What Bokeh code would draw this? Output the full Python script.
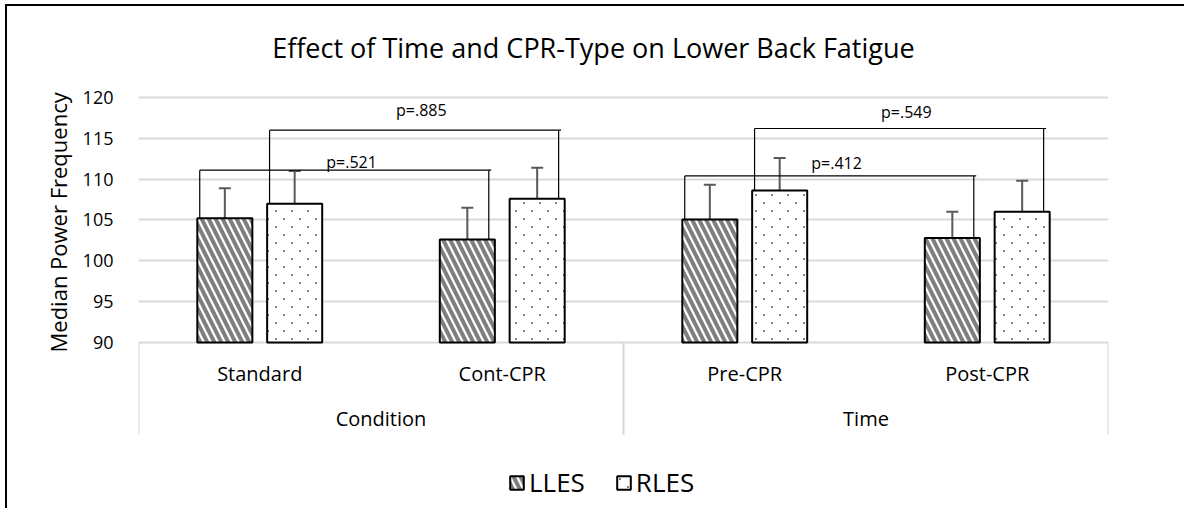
import base64
import struct
import zlib

from bokeh.plotting import figure
from bokeh.models import (ColumnDataSource, FactorRange, Range1d, FixedTicker, Title,
                          Legend, LegendItem, Whisker, TeeHead, ImageURLTexture)
from bokeh.embed import file_html
from bokeh.resources import INLINE
from bokeh.core.properties import value

# ---------------- data ----------------
title_text = "Effect of Time and CPR-Type on Lower Back Fatigue"
y_label = "Median Power Frequency"
groups = ["Condition", "Time"]
categories = ["Standard", "Cont-CPR", "Pre-CPR", "Post-CPR"]
group_members = [["Standard", "Cont-CPR"], ["Pre-CPR", "Post-CPR"]]
series = ["LLES", "RLES"]
lles_mean = [105.2, 102.6, 105.05, 102.8]
lles_err = [3.7, 3.9, 4.25, 3.2]
rles_mean = [107.0, 107.6, 108.6, 106.0]
rles_err = [4.0, 3.8, 4.0, 3.8]
y_ticks = [90, 95, 100, 105, 110, 115, 120]

comp_label = ["p=.521", "p=.885", "p=.412", "p=.549"]
comp_series = ["LLES", "RLES", "LLES", "RLES"]
comp_from = ["Standard", "Standard", "Pre-CPR", "Pre-CPR"]
comp_to = ["Cont-CPR", "Cont-CPR", "Post-CPR", "Post-CPR"]
comp_height = [111.1, 116.0, 110.4, 116.2]
comp_label_y = [112.1, 118.5, 112.0, 118.25]

# ---------------- layout constants ----------------
FONT = "Open Sans"
BAR_W = 0.227
OFF = 0.144
series_off = {"LLES": -OFF, "RLES": OFF}
means = {"LLES": lles_mean, "RLES": rles_mean}
errs = {"LLES": lles_err, "RLES": rles_err}
Y_MIN = 69.43
Y_MAX = 131.14
TITLE_X = 1.876
TITLE_Y = 126.09
ROW1_Y = 86.23
ROW2_Y = 80.66
TABLE_BOTTOM = 78.7
GRID = "#d9d9d9"


def dot_tile_png(size=16, dot=2, gray=127):
    """Small RGBA tile: two staggered gray dots on a transparent background."""
    spots = [(4, 4), (12, 12)]
    rows = []
    for yy in range(size):
        row = bytearray(b"\x00")
        for xx in range(size):
            on = any(sx <= xx < sx + dot and sy <= yy < sy + dot for sx, sy in spots)
            row += bytes((gray, gray, gray, 255 if on else 0))
        rows.append(bytes(row))
    raw = b"".join(rows)

    def chunk(tag, data):
        return (struct.pack(">I", len(data)) + tag + data +
                struct.pack(">I", zlib.crc32(tag + data) & 0xFFFFFFFF))

    png = (b"\x89PNG\r\n\x1a\n" +
           chunk(b"IHDR", struct.pack(">IIBBBBB", size, size, 8, 6, 0, 0, 0)) +
           chunk(b"IDAT", zlib.compress(raw)) + chunk(b"IEND", b""))
    return "data:image/png;base64," + base64.b64encode(png).decode("ascii")


p = figure(width=1179, height=504, title=None,
           x_range=FactorRange(factors=categories),
           y_range=Range1d(Y_MIN, Y_MAX),
           output_backend="svg", toolbar_location=None,
           x_axis_location=None,
           min_border_left=131, min_border_right=78,
           min_border_top=0, min_border_bottom=0,
           styles={"margin-left": "7px", "margin-top": "6px",
                   "box-shadow": "-2px -2px 0 0 #000"})
p.outline_line_color = None
p.background_fill_color = "white"
p.border_fill_color = "white"

# chart title (drawn inside the extended frame, above the 120 gridline)
p.text(x=[TITLE_X], y=[TITLE_Y], text=[title_text], text_font=value(FONT),
       text_font_size="27px", text_align="center", text_baseline="middle",
       text_color="black")

# y-axis title
p.add_layout(Title(text=y_label, align="left", offset=158, standoff=14,
                   text_font=FONT, text_font_size="22px", text_font_style="normal",
                   text_color="black"), "left")

# y axis
yax = p.yaxis[0]
yax.ticker = FixedTicker(ticks=y_ticks)
yax.axis_line_color = None
yax.major_tick_line_color = None
yax.minor_tick_line_color = None
yax.major_tick_out = 0
yax.major_tick_in = 0
yax.major_label_standoff = 25
yax.major_label_text_font = FONT
yax.major_label_text_font_size = "18px"
yax.major_label_text_color = "black"

p.xgrid.visible = False
p.ygrid.ticker = FixedTicker(ticks=y_ticks)
p.ygrid.grid_line_color = GRID
p.ygrid.grid_line_width = 2

dots = ImageURLTexture(url=dot_tile_png())

# bars
renderers = {}
for s in series:
    src = ColumnDataSource(dict(
        x=[(c, series_off[s]) for c in categories],
        top=means[s],
        upper=[m + e for m, e in zip(means[s], errs[s])],
    ))
    if s == "LLES":
        hatch = dict(hatch_pattern="\\", hatch_color="#7f7f7f", hatch_weight=4, hatch_scale=14)
    else:
        hatch = dict(hatch_pattern=value("rles_dots"), hatch_extra={"rles_dots": dots},
                     hatch_color="#7f7f7f", hatch_scale=16)
    r = p.vbar(x="x", top="top", bottom=90, width=BAR_W, source=src,
               fill_color="white", line_color="black", line_width=2, **hatch)
    renderers[s] = r
    w = Whisker(source=src, base="x", lower="top", upper="upper", dimension="height",
                line_color="#595959", line_width=2,
                upper_head=TeeHead(size=12, line_color="#595959", line_width=2),
                lower_head=None)
    p.add_layout(w)

# comparison brackets
bx0, by0, bx1, by1 = [], [], [], []
lab_x = []
for lab, s, a, b, h in zip(comp_label, comp_series, comp_from, comp_to, comp_height):
    ia, ib = categories.index(a), categories.index(b)
    left = (a, series_off[s] - BAR_W / 2 + 0.01)
    right = (b, series_off[s] + BAR_W / 2 - 0.025)
    right_end = (b, series_off[s] + BAR_W / 2 - 0.015)
    bx0.append(left); by0.append(means[s][ia]); bx1.append(left); by1.append(h)
    bx0.append(left); by0.append(h); bx1.append(right_end); by1.append(h)
    bx0.append(right); by0.append(h); bx1.append(right); by1.append(means[s][ib])
    mid = ((ia + 0.5 + left[1]) + (ib + 0.5 + right[1])) / 2 + 0.03
    lab_x.append(mid)
p.segment(x0=bx0, y0=by0, x1=bx1, y1=by1, line_color="black", line_width=1.2)
p.text(x=lab_x, y=comp_label_y, text=comp_label, text_font=value(FONT),
       text_font_size="16px", text_align="center", text_baseline="middle",
       text_color="black")

# category table below the plot area
sep_x = [(members[0], -0.5) for members in group_members]
sep_x.append((group_members[-1][-1], 0.5))
p.segment(x0=sep_x, y0=[90] * len(sep_x), x1=sep_x, y1=[TABLE_BOTTOM] * len(sep_x),
          line_color=GRID, line_width=2)
p.text(x=categories, y=[ROW1_Y] * len(categories), text=categories,
       text_font=value(FONT), text_font_size="20px", text_align="center",
       text_baseline="middle", text_color="black")
grp_x = [(m[0], (len(m) - 1) / 2) for m in group_members]
p.text(x=grp_x, y=[ROW2_Y] * len(groups), text=groups,
       text_font=value(FONT), text_font_size="20px", text_align="center",
       text_baseline="middle", text_color="black")

# legend
legend = Legend(items=[LegendItem(label=s, renderers=[renderers[s]]) for s in series],
                location=(370, 10), orientation="horizontal",
                glyph_width=17, glyph_height=17, label_standoff=4, spacing=30,
                padding=0, margin=0, border_line_color=None, background_fill_alpha=0,
                label_text_font=FONT, label_text_font_size="26px",
                label_text_color="black")
p.add_layout(legend)

open("out.html", "w").write(file_html(p, INLINE))
